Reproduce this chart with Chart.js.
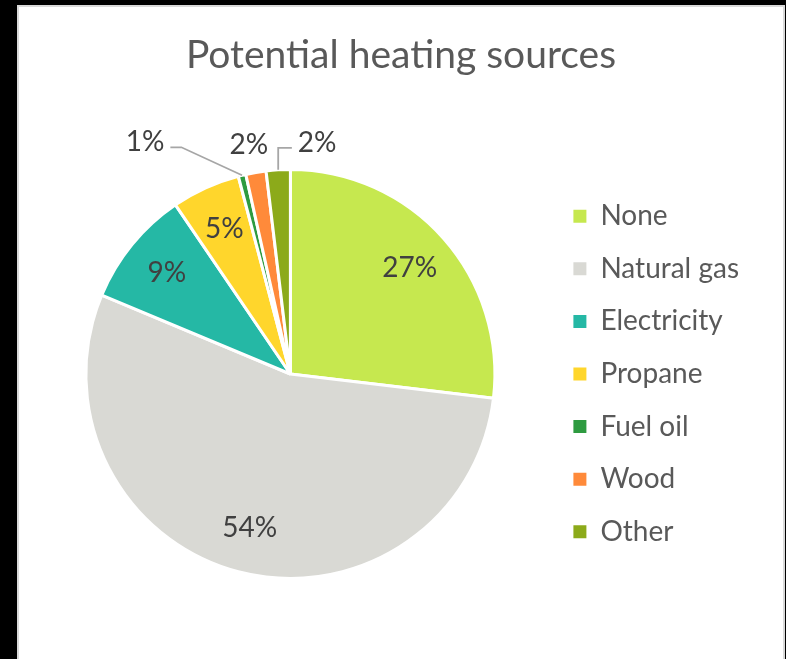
<!DOCTYPE html>
<html>
<head>
<meta charset="utf-8">
<title>Potential heating sources</title>
<script src="https://cdn.jsdelivr.net/npm/chart.js@4.4.1/dist/chart.umd.min.js"></script>
<style>
  html, body { margin: 0; padding: 0; background: #000; overflow: hidden; }
  #frame {
    position: absolute; left: 17px; top: 5px;
    width: 764px; height: 660px;
    border: 2px solid #d9d9d9; background: #fff;
  }
  #heating { position: absolute; left: 0; top: 0; }
</style>
</head>
<body>
<div id="frame">
  <canvas id="heating" width="764" height="652"></canvas>
</div>
<script>
// survey answers, share of respondents in percent
const categories = ["None", "Natural gas", "Electricity", "Propane", "Fuel oil", "Wood", "Other"];
const shares = [26.9, 54.4, 9.2, 5.4, 0.6, 1.6, 1.9];
const sliceColors = ["#c6e84f", "#d9d9d4", "#25b8a5", "#ffd62c", "#2e9b40", "#ff8a3a", "#8caa1a"];

// small slices get their label outside, moved by [dx, dy] from the rim
const calloutShift = {
  "Fuel oil": [-97, -33],
  "Wood": [-7, -27],
  "Other": [39, -27],
};

const labelFont = "28px Lato";
const textGrey = "#595959";

const sliceLabels = {
  id: "sliceLabels",
  afterLayout(chart) {
    // center the title over the whole frame, not just pie + legend
    const t = chart.titleBlock;
    if (t) {
      t.left = 0;
      t.right = chart.width;
    }
  },
  afterDatasetsDraw(chart) {
    const ctx = chart.ctx;
    const meta = chart.getDatasetMeta(0);
    const total = shares.reduce((a, b) => a + b, 0);
    ctx.save();
    ctx.font = labelFont;
    ctx.fillStyle = "#404040";
    ctx.textAlign = "center";
    ctx.textBaseline = "middle";
    meta.data.forEach((arc, i) => {
      const { x, y, startAngle, endAngle, outerRadius } =
        arc.getProps(["x", "y", "startAngle", "endAngle", "outerRadius"], true);
      const mid = (startAngle + endAngle) / 2;
      const text = Math.round(shares[i] / total * 100) + "%";
      const shift = calloutShift[categories[i]];

      if (!shift) {
        const r = outerRadius * 0.78;
        ctx.fillText(text, x + r * Math.cos(mid), y + r * Math.sin(mid));
        return;
      }

      const ax = x + outerRadius * Math.cos(mid);
      const ay = y + outerRadius * Math.sin(mid);
      const lx = ax + shift[0];
      const ly = ay + shift[1];
      ctx.fillText(text, lx, ly);

      // leader line only when the label sits away from its slice
      if (Math.hypot(shift[0], shift[1]) > 35) {
        const w = ctx.measureText(text).width;
        const dir = ax > lx ? 1 : -1;
        const sx = lx + dir * (w / 2 + 6);
        const sy = ly + 5;
        const ex = Math.abs(ax - sx) < 25 ? ax : sx + dir * 11;
        ctx.beginPath();
        ctx.moveTo(sx, sy);
        ctx.lineTo(ex, sy);
        ctx.lineTo(ax, ay);
        ctx.strokeStyle = "#a6a6a6";
        ctx.lineWidth = 1.8;
        ctx.stroke();
      }
    });
    ctx.restore();
  },
};

new Chart(document.getElementById("heating"), {
  type: "pie",
  data: {
    labels: categories,
    datasets: [
      {
        data: shares,
        backgroundColor: sliceColors,
        borderColor: "#ffffff",
        borderWidth: 3,
      },
    ],
  },
  options: {
    responsive: false,
    animation: false,
    layout: { padding: { left: 13, right: 34, top: 0, bottom: 79 } },
    plugins: {
      title: {
        display: true,
        text: "Potential heating sources",
        color: textGrey,
        font: { family: "Lato", size: 39, weight: "normal" },
        padding: { top: 24.6, bottom: 89.6 },
      },
      legend: {
        position: "right",
        fullSize: false,
        labels: {
          boxWidth: 13,
          boxHeight: 13,
          padding: 24.6,
          color: textGrey,
          font: { family: "Lato", size: 28 },
          generateLabels: (chart) =>
            Chart.overrides.pie.plugins.legend.labels
              .generateLabels(chart)
              .map((item) => ({ ...item, lineWidth: 0 })),
        },
      },
      tooltip: { enabled: false },
    },
  },
  plugins: [sliceLabels],
});
</script>
</body>
</html>
